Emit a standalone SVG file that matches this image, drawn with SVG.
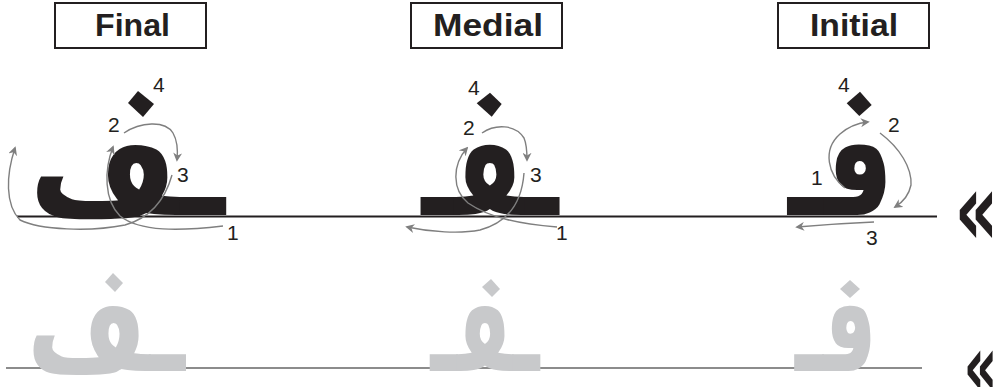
<svg xmlns="http://www.w3.org/2000/svg" width="1006" height="387" viewBox="0 0 1006 387">
<style>
.box{fill:#fff;stroke:#231f20;stroke-width:2}
.title{font-family:"Liberation Sans",Arial,sans-serif;font-weight:bold;font-size:32px;fill:#231f20;text-anchor:middle}
.num{font-family:"Liberation Sans",Arial,sans-serif;font-size:21px;fill:#231f20}
.ar{font-family:"DejaVu Sans",sans-serif;font-weight:bold;text-anchor:middle}
.blk{fill:#231f20;font-size:145px}
.gry{fill:#c8c9cb;font-size:135px}
.dotb{fill:#231f20}
.dotg{fill:#c8c9cb}
.arr{fill:none;stroke:#7f7f7f;stroke-width:1.4;marker-end:url(#ah)}
.guil{font-family:"DejaVu Sans",sans-serif;font-weight:bold;fill:#231f20;text-anchor:middle}
</style>
<defs>
<marker id="ah" viewBox="0 0 10 10" refX="8" refY="5" markerWidth="9" markerHeight="9" orient="auto" markerUnits="userSpaceOnUse">
<path d="M0,0 L10,5 L0,10 L3,5 Z" fill="#7f7f7f"/>
</marker>
</defs>
<rect width="1006" height="387" fill="#fff"/>
<g id="guides">
<line x1="17" y1="216.5" x2="937" y2="216.5" stroke="#231f20" stroke-width="2"/>
<line x1="6" y1="368" x2="922" y2="368" stroke="#8c8c8c" stroke-width="2"/>
<text class="guil" transform="translate(976.5,245) scale(0.66,1)" font-size="103">«</text>
<text class="guil" transform="translate(980.5,396) scale(0.6,1)" font-size="88">«</text>
</g>
<g id="final">
<rect class="box" x="55" y="3" width="151" height="45"/>
<text class="title" x="132.5" y="36" textLength="75" lengthAdjust="spacingAndGlyphs">Final</text>
<text class="ar blk" x="127" y="215" textLength="196" lengthAdjust="spacingAndGlyphs">ـڡ</text>
<polygon class="dotb" points="128,103 138,91 154,104 143,117"/>
<text class="num" x="153" y="92">4</text>
<text class="num" x="108" y="132">2</text>
<text class="num" x="177" y="182">3</text>
<text class="num" x="227" y="240">1</text>
</g>
<g id="medial">
<rect class="box" x="411" y="3" width="151" height="45"/>
<text class="title" x="488" y="36" textLength="110" lengthAdjust="spacingAndGlyphs">Medial</text>
<text class="ar blk" x="490" y="215" textLength="137" lengthAdjust="spacingAndGlyphs">ـڡـ</text>
<polygon class="dotb" points="476.7,103.3 490,92.7 501.7,104 491.7,116.7"/>
<text class="num" x="468" y="95">4</text>
<text class="num" x="463" y="135">2</text>
<text class="num" x="530" y="182">3</text>
<text class="num" x="556" y="240">1</text>
</g>
<g id="initial">
<rect class="box" x="778" y="3" width="151" height="45"/>
<text class="title" x="854" y="36" textLength="88" lengthAdjust="spacingAndGlyphs">Initial</text>
<text class="ar blk" x="841" y="215" textLength="106" lengthAdjust="spacingAndGlyphs">ڡـ</text>
<polygon class="dotb" points="846.7,103.3 860,91.7 871.7,105 859.3,116"/>
<text class="num" x="838" y="92">4</text>
<text class="num" x="888" y="132">2</text>
<text class="num" x="811" y="185">1</text>
<text class="num" x="866" y="245">3</text>
</g>
<g id="final-trace">
<text class="ar gry" x="106" y="371" textLength="158" lengthAdjust="spacingAndGlyphs">ـڡ</text>
<polygon class="dotg" points="105,282 113,273 123,283 115,292"/>
</g>
<g id="medial-trace">
<text class="ar gry" x="485" y="371" textLength="109" lengthAdjust="spacingAndGlyphs">ـڡـ</text>
<polygon class="dotg" points="482,287 491,279 500,289 492,297"/>
</g>
<g id="initial-trace">
<text class="ar gry" x="836" y="371" textLength="82" lengthAdjust="spacingAndGlyphs">ڡـ</text>
<polygon class="dotg" points="840,289 850,280 860,289 850,298"/>
</g>
<g id="connectors">
<path class="arr" d="M223,226 C180,231 140,232 120,216 C104,200 104,170 113,147"/>
<path class="arr" d="M172,175 C165,200 150,218 125,225 C90,232 40,230 20,220 C5,205 6,175 15,148"/>
<path class="arr" d="M124,133 C140,122 165,120 173,133 C177,140 178,150 177,160"/>
<path class="arr" d="M482,133 C495,124 515,124 524,138 C527,145 527,152 527,160"/>
<path class="arr" d="M524,173 C522,200 510,222 480,230 C460,234 430,232 407,227"/>
<path class="arr" d="M557,227 C520,224 490,218 468,203 C452,190 452,165 467,148"/>
<path class="arr" d="M845,188 C828,175 822,150 840,134 C848,127 858,123 868,122"/>
<path class="arr" d="M880,133 C900,148 912,168 911,185 C909,195 903,202 895,207"/>
<path class="arr" d="M874,222 C850,223 820,225 797,227"/>
</g>
</svg>
